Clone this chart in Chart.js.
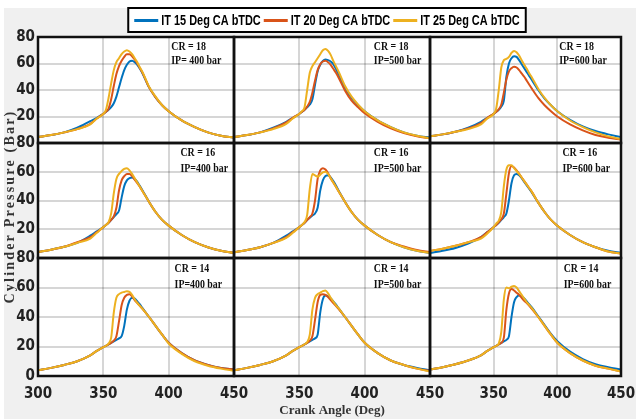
<!DOCTYPE html>
<html>
<head>
<meta charset="utf-8">
<script src="https://cdn.jsdelivr.net/npm/chart.js@4.4.1/dist/chart.umd.min.js"></script>
<style>
  html, body { margin: 0; padding: 0; background: #fff; }
  #wrap { position: relative; width: 636px; height: 419px; }
  #figbg { position: absolute; left: 4px; top: 8px; right: 0; bottom: 0; background: #f0f0f0; }
  #chart { position: absolute; left: 0; top: 0; }
</style>
</head>
<body>
<div id="wrap"><div id="figbg"></div><canvas id="chart" width="636" height="419"></canvas></div>
<script>
// crank angle samples (deg) shared by every curve
const crankAngle = [300, 310, 320, 330, 340, 345, 350, 352, 354, 356, 358, 360, 362, 364, 366, 368, 370, 372, 374, 376, 378, 380, 385, 390, 395, 400, 410, 420, 430, 440, 450];

const seriesNames = ['IT 15 Deg CA bTDC', 'IT 20 Deg CA bTDC', 'IT 25 Deg CA bTDC'];
const crLabels = ['CR = 18', 'CR = 16', 'CR = 14'];
const ipLabels = [
    ['IP= 400 bar', 'IP=500 bar', 'IP=600 bar'],
    ['IP=400 bar', 'IP=500 bar', 'IP=600 bar'],
    ['IP=400 bar', 'IP=500 bar', 'IP=600 bar']
];
const xTicks = [300, 350, 400, 450];
const yTicks = [0, 20, 40, 60, 80];

// cylinder pressure (bar), one row per injection timing: IT15, IT20, IT25
const cr18ip400 = [
    [4.5, 6, 8, 11.5, 16.5, 19, 22, 23.5, 25, 27, 30, 35, 42, 49, 55, 59, 61.5, 62, 61, 59, 56, 52.5, 42, 34.5, 28.5, 24, 17, 12, 8, 5.5, 4],
    [4.5, 6, 8, 10.5, 14.5, 18.5, 22, 23.5, 26, 33, 43, 52, 58, 62, 65, 67, 67, 65.5, 63, 60, 56.5, 53, 42, 34.5, 28.5, 24, 17, 12, 8, 5.5, 4],
    [4.5, 6, 8, 10.5, 14, 18.5, 22, 25, 34, 45, 55, 61, 64, 67, 69, 70, 69, 67, 64, 61, 57, 53.5, 42.5, 35, 28.5, 24, 17, 12, 8, 5.5, 4]
];
const cr18ip500 = [
    [4.5, 6, 8, 11.5, 16, 19, 22, 23.5, 25, 27, 29, 33, 44, 54, 59, 62, 63, 62.5, 61.5, 59.5, 56, 52, 41.5, 34, 28.5, 24, 17, 12, 8, 5.5, 4],
    [4.5, 6, 8, 11, 15.5, 19, 22, 23.5, 25, 27.5, 31, 38, 47, 55, 59.5, 61.5, 62, 61, 59, 56, 53, 49.5, 39.5, 32, 27, 22.5, 16, 11, 7.5, 5, 3.5],
    [4.5, 6, 8, 10.5, 14.5, 18.5, 22, 24, 27, 40, 53, 58, 61, 64, 67, 70, 71, 69.5, 66.5, 62, 58, 54, 43, 35, 29, 24, 17, 12, 8, 5.5, 3.5]
];
const cr18ip600 = [
    [5, 6.5, 8.5, 11.5, 16, 19, 22, 23.5, 25, 27.5, 32, 50, 60, 64, 65.5, 65, 62.5, 59.5, 56.5, 53.5, 50.5, 47.5, 40, 33.5, 28.5, 24, 17.5, 12.5, 9, 6.5, 4.5],
    [5, 6.5, 8.5, 11, 15, 19, 22, 23.5, 25.5, 29, 38, 48, 54, 56.5, 57.5, 57, 55, 52.5, 50, 47, 44, 41, 34, 28.5, 24, 20, 14, 9.5, 6, 4, 2.5],
    [5, 6.5, 8.5, 10.5, 14, 18.5, 22, 26, 40, 57, 62.5, 63.5, 65, 68, 69.5, 68.5, 66, 62.5, 59, 56, 52.5, 49.5, 41, 34, 28.5, 24, 17, 12, 8, 5, 3]
];
const cr16ip400 = [
    [4.2, 5.8, 7.8, 10.5, 15.5, 18.5, 21.5, 23, 24.5, 26.5, 28.5, 30.5, 33, 42, 50, 54, 55.5, 56, 55, 53, 50, 47, 39, 32, 26.5, 22.5, 16, 11, 7.5, 5, 3.5],
    [4.2, 5.8, 7.8, 11, 14.5, 18, 21.5, 23, 24.5, 26.5, 29, 35, 47, 54, 57, 58.5, 58.5, 57, 54.5, 52, 49.5, 46.5, 39, 32, 26.5, 22.5, 16, 11, 7.5, 5, 3.5],
    [4.2, 5.8, 7.8, 10.5, 13.5, 17.5, 21.5, 23, 25, 31, 45, 55, 58.5, 60.5, 62, 62.5, 61, 58.5, 55.5, 52.5, 49.5, 46.5, 39, 32, 26.5, 22.5, 16, 11, 7.5, 5, 3.5]
];
const cr16ip500 = [
    [4, 5.5, 7.5, 10.5, 15.5, 18.5, 21.5, 23, 24.5, 26.5, 28, 29.5, 31, 35, 47, 54, 57, 57.5, 56, 53.5, 50.5, 47, 39, 32, 26.5, 22.5, 16, 11, 7.5, 5, 3.5],
    [4, 5.5, 7.5, 10.5, 14.5, 18, 21.5, 23, 24.5, 26.5, 28.5, 31, 40, 55, 61, 62.5, 61.5, 59, 55.5, 52.5, 49.5, 46.5, 39, 32, 26.5, 22.5, 16, 11, 8, 5.5, 4],
    [4, 5.5, 7.5, 10.5, 14, 17.5, 21.5, 23, 25, 30, 48, 58.5, 57.5, 56.5, 58, 59.5, 60, 58.5, 55.5, 52.5, 49.5, 46.5, 39, 32, 26.5, 22.5, 16, 11, 7.5, 5, 3.5]
];
const cr16ip600 = [
    [3.5, 5, 7, 10, 14.5, 18, 21.5, 23, 24.5, 26.5, 28.5, 31, 40, 52, 57.5, 58.5, 57.5, 55.5, 53, 50.5, 48, 45.5, 38.5, 32, 26.5, 22.5, 16, 11, 7.5, 5, 3.5],
    [5, 6.5, 8.5, 11, 14.5, 18, 21.5, 23, 25, 27, 31, 45, 59, 64, 63, 61, 58.5, 56, 53.5, 51, 48.5, 46, 38.5, 32, 26.5, 22.5, 16, 11, 7.5, 4.5, 3],
    [5, 6.5, 8.5, 11, 13.5, 17, 21.5, 24, 26, 32, 50, 61.5, 64.5, 64.5, 62.5, 60.5, 58.5, 56, 53.5, 51, 48.5, 46, 38.5, 32, 26.5, 22.5, 16, 11, 7.5, 4.5, 3]
];
const cr14ip400 = [
    [4, 5.5, 7.5, 10, 14, 17, 19.5, 20.5, 21.5, 22.5, 23.5, 24.5, 25.5, 27, 34, 45, 51, 53, 52.5, 50.5, 48.5, 46, 40, 34, 28, 22.5, 15.5, 10.5, 7.5, 5.5, 4.5],
    [4, 5.5, 7.5, 10, 14, 17, 19.5, 20.5, 21.5, 22.5, 24, 27, 37, 48, 53, 55, 55.5, 54, 51.5, 49.5, 47.5, 45.5, 40, 34, 28, 22.5, 15.5, 10.5, 7.5, 5.5, 4.5],
    [4, 5.5, 7.5, 10, 14, 17, 19.5, 20.5, 22, 26, 43, 53, 55.5, 56.5, 57, 57.5, 57, 55, 52, 49.5, 47.5, 45.5, 40, 34, 28, 22, 15, 10, 7, 5, 3.5]
];
const cr14ip500 = [
    [4, 5.5, 7.5, 10, 14, 17, 19.5, 20.5, 21.5, 22.5, 23.5, 24.5, 25.5, 28, 43, 52, 54.5, 54, 52.5, 50.5, 48.5, 46, 40, 34, 28, 22.5, 15.5, 10.5, 7.5, 5.5, 4],
    [4, 5.5, 7.5, 10, 14, 17, 19.5, 20.5, 21.5, 22.5, 24, 27, 38, 50, 55, 55.5, 55, 53.5, 51.5, 49.5, 47.5, 45.5, 40, 34, 28, 22.5, 15.5, 10.5, 7.5, 5, 3.5],
    [4, 5.5, 7.5, 10, 14, 17, 19.5, 20.5, 21.5, 23, 28, 45, 53, 55.5, 56.5, 57.5, 58, 56, 53, 50.5, 48, 46, 40, 34, 28, 22.5, 15.5, 10.5, 7.5, 5, 3]
];
const cr14ip600 = [
    [4.5, 6, 8, 10.5, 14, 17, 19.5, 20.5, 21.5, 22.5, 23.5, 24.5, 27, 40, 50, 53.5, 54.5, 54, 52.5, 50.5, 48.5, 46.5, 40.5, 34.5, 28.5, 23.5, 16.5, 11.5, 8, 6, 4.5],
    [4.5, 6, 8, 10.5, 14, 17, 19.5, 20.5, 21.5, 22.5, 26, 45, 56, 59, 58, 56.5, 55, 53, 51, 49.5, 47.5, 45.5, 40, 34, 28, 22.5, 15.5, 10.5, 7, 5, 3],
    [4.5, 6, 8, 10.5, 14, 17, 19.5, 20.5, 22, 30, 52, 60, 59.5, 60.5, 61, 60, 57.5, 55, 52.5, 50, 48, 46, 40, 34, 28, 22.5, 15.5, 10.5, 7, 5, 3]
];

const panels = [
    [cr18ip400, cr18ip500, cr18ip600],
    [cr16ip400, cr16ip500, cr16ip600],
    [cr14ip400, cr14ip500, cr14ip600]
];

// layout / style
const seriesColors = ['#0072BD', '#D95319', '#EDB120'];
const rowWeights = [106, 115, 118];
const colWeights = [196, 196, 191];
const noteX = [[402, 407, 401.5], [409, 407, 404], [404.5, 407, 405]]; // deg, where CR/IP text starts
const noteY = [73, 62]; // bar, text centre lines
const tickFont = "'Liberation Sans Narrow', 'Arial Narrow', 'DejaVu Sans Condensed', 'Liberation Sans', sans-serif";
const serifFont = "'Liberation Serif', 'Times New Roman', serif";
const gridColor = 'rgba(0, 0, 0, 0.16)';

const datasets = [];
panels.forEach((row, r) => {
    row.forEach((panel, c) => {
        panel.forEach((values, s) => {
            datasets.push({
                label: seriesNames[s],
                data: crankAngle.map((a, i) => ({ x: a, y: values[i] })),
                xAxisID: 'x' + c,
                yAxisID: 'y' + r,
                borderColor: seriesColors[s],
                backgroundColor: seriesColors[s],
                borderWidth: 2,
                pointRadius: 0,
                cubicInterpolationMode: 'monotone',
                order: 2 - s // yellow drawn on top
            });
        });
    });
});

const scales = {};
colWeights.forEach((w, c) => {
    scales['x' + c] = {
        type: 'linear',
        position: 'bottom',
        stack: 'angle',
        stackWeight: w,
        min: 300,
        max: 450,
        afterBuildTicks: scale => { scale.ticks = xTicks.map(v => ({ value: v })); },
        afterFit: scale => {
            scale.height = 43;
            // edge labels may spill into the figure margin
            scale.paddingLeft = 10;
            scale.paddingRight = 10;
        },
        ticks: {
            autoSkip: false,
            maxRotation: 0,
            padding: 9,
            color: '#222',
            font: { family: tickFont, size: 15, weight: 'bold' },
            callback: v => (c > 0 && v === 300) ? '' : v
        },
        grid: { color: gridColor, lineWidth: 2, drawTicks: false },
        border: { display: false },
        title: {
            display: c === 1,
            text: 'Crank Angle (Deg)',
            color: '#333',
            padding: { top: 0, bottom: 1 },
            font: { family: serifFont, size: 13, weight: 'bold' }
        }
    };
});
rowWeights.forEach((w, r) => {
    scales['y' + r] = {
        type: 'linear',
        position: 'left',
        stack: 'pressure',
        stackWeight: w,
        weight: 3 - r, // top row first
        min: 0,
        max: 80,
        afterBuildTicks: scale => { scale.ticks = yTicks.map(v => ({ value: v })); },
        afterFit: scale => { scale.width = 38; },
        ticks: {
            autoSkip: false,
            padding: 3,
            color: '#222',
            font: { family: tickFont, size: 15, weight: 'bold' },
            callback: v => (r < 2 && v === 0) ? '' : v
        },
        grid: { color: gridColor, lineWidth: 2, drawTicks: false },
        border: { display: false }
    };
});

// condensed text helper (the figure's lettering is narrow)
function narrowText(ctx, text, x, y, sx) {
    ctx.save();
    ctx.translate(x, y);
    ctx.scale(sx, 1);
    ctx.fillText(text, 0, 0);
    ctx.restore();
}

const panelDecor = {
    id: 'panelDecor',
    beforeDraw(chart) {
        const ctx = chart.ctx, a = chart.chartArea;
        ctx.save();
        ctx.fillStyle = '#fff';
        ctx.fillRect(a.left, a.top, a.right - a.left, a.bottom - a.top);
        ctx.restore();
    },
    afterDatasetsDraw(chart) {
        const ctx = chart.ctx;
        ctx.save();
        for (let r = 0; r < 3; r++) {
            for (let c = 0; c < 3; c++) {
                const xs = chart.scales['x' + c], ys = chart.scales['y' + r];
                ctx.strokeStyle = '#111';
                ctx.lineWidth = 2.5;
                ctx.strokeRect(xs.left, ys.top, xs.right - xs.left, ys.bottom - ys.top);
                ctx.fillStyle = '#111';
                ctx.font = 'bold 13px ' + serifFont;
                ctx.textBaseline = 'middle';
                ctx.textAlign = 'left';
                const tx = xs.getPixelForValue(noteX[r][c]);
                narrowText(ctx, crLabels[r], tx, ys.getPixelForValue(noteY[0]), 0.76);
                narrowText(ctx, ipLabels[r][c], tx, ys.getPixelForValue(noteY[1]), 0.76);
            }
        }
        ctx.restore();
    },
    afterDraw(chart) {
        const ctx = chart.ctx, a = chart.chartArea;
        // y axis title
        ctx.save();
        ctx.translate(a.left - 28, (a.top + a.bottom) / 2);
        ctx.rotate(-Math.PI / 2);
        ctx.font = 'bold 14px ' + serifFont;
        if ('letterSpacing' in ctx) ctx.letterSpacing = '2.2px';
        ctx.fillStyle = '#333';
        ctx.textAlign = 'center';
        ctx.textBaseline = 'middle';
        ctx.fillText('Cylinder Pressure (Bar)', 0, 0);
        ctx.restore();

        // legend box with the three injection timings
        const sx = 0.78, lineLen = 24, gap = 3;
        ctx.save();
        ctx.font = "bold 14px 'Liberation Sans', Arial, sans-serif";
        const items = chart.data.datasets.slice(0, 3).map(ds => ({
            text: ds.label, color: ds.borderColor, w: ctx.measureText(ds.label).width * sx
        }));
        const total = items.reduce((s, it) => s + lineLen + gap + it.w, 0) + gap * (items.length - 1);
        const cx = 327;
        let x = cx - total / 2;
        const top = 8, bottom = 32, midY = 20.5;
        ctx.fillStyle = '#fff';
        ctx.fillRect(x - 6, top, total + 12, bottom - top);
        ctx.strokeStyle = '#000';
        ctx.lineWidth = 2;
        ctx.strokeRect(x - 6, top, total + 12, bottom - top);
        ctx.textBaseline = 'middle';
        ctx.textAlign = 'left';
        items.forEach(it => {
            ctx.strokeStyle = it.color;
            ctx.lineWidth = 3;
            ctx.beginPath();
            ctx.moveTo(x, midY);
            ctx.lineTo(x + lineLen, midY);
            ctx.stroke();
            x += lineLen + gap;
            ctx.fillStyle = '#000';
            narrowText(ctx, it.text, x, midY + 0.5, sx);
            x += it.w + gap;
        });
        ctx.restore();
    }
};

new Chart(document.getElementById('chart'), {
    type: 'line',
    data: { datasets: datasets },
    options: {
        responsive: false,
        animation: false,
        events: [],
        layout: { padding: { left: 0, right: 15, top: 37, bottom: 0 } },
        scales: scales,
        plugins: {
            tooltip: { enabled: false },
            legend: { display: false }
        }
    },
    plugins: [panelDecor]
});
</script>
</body>
</html>
